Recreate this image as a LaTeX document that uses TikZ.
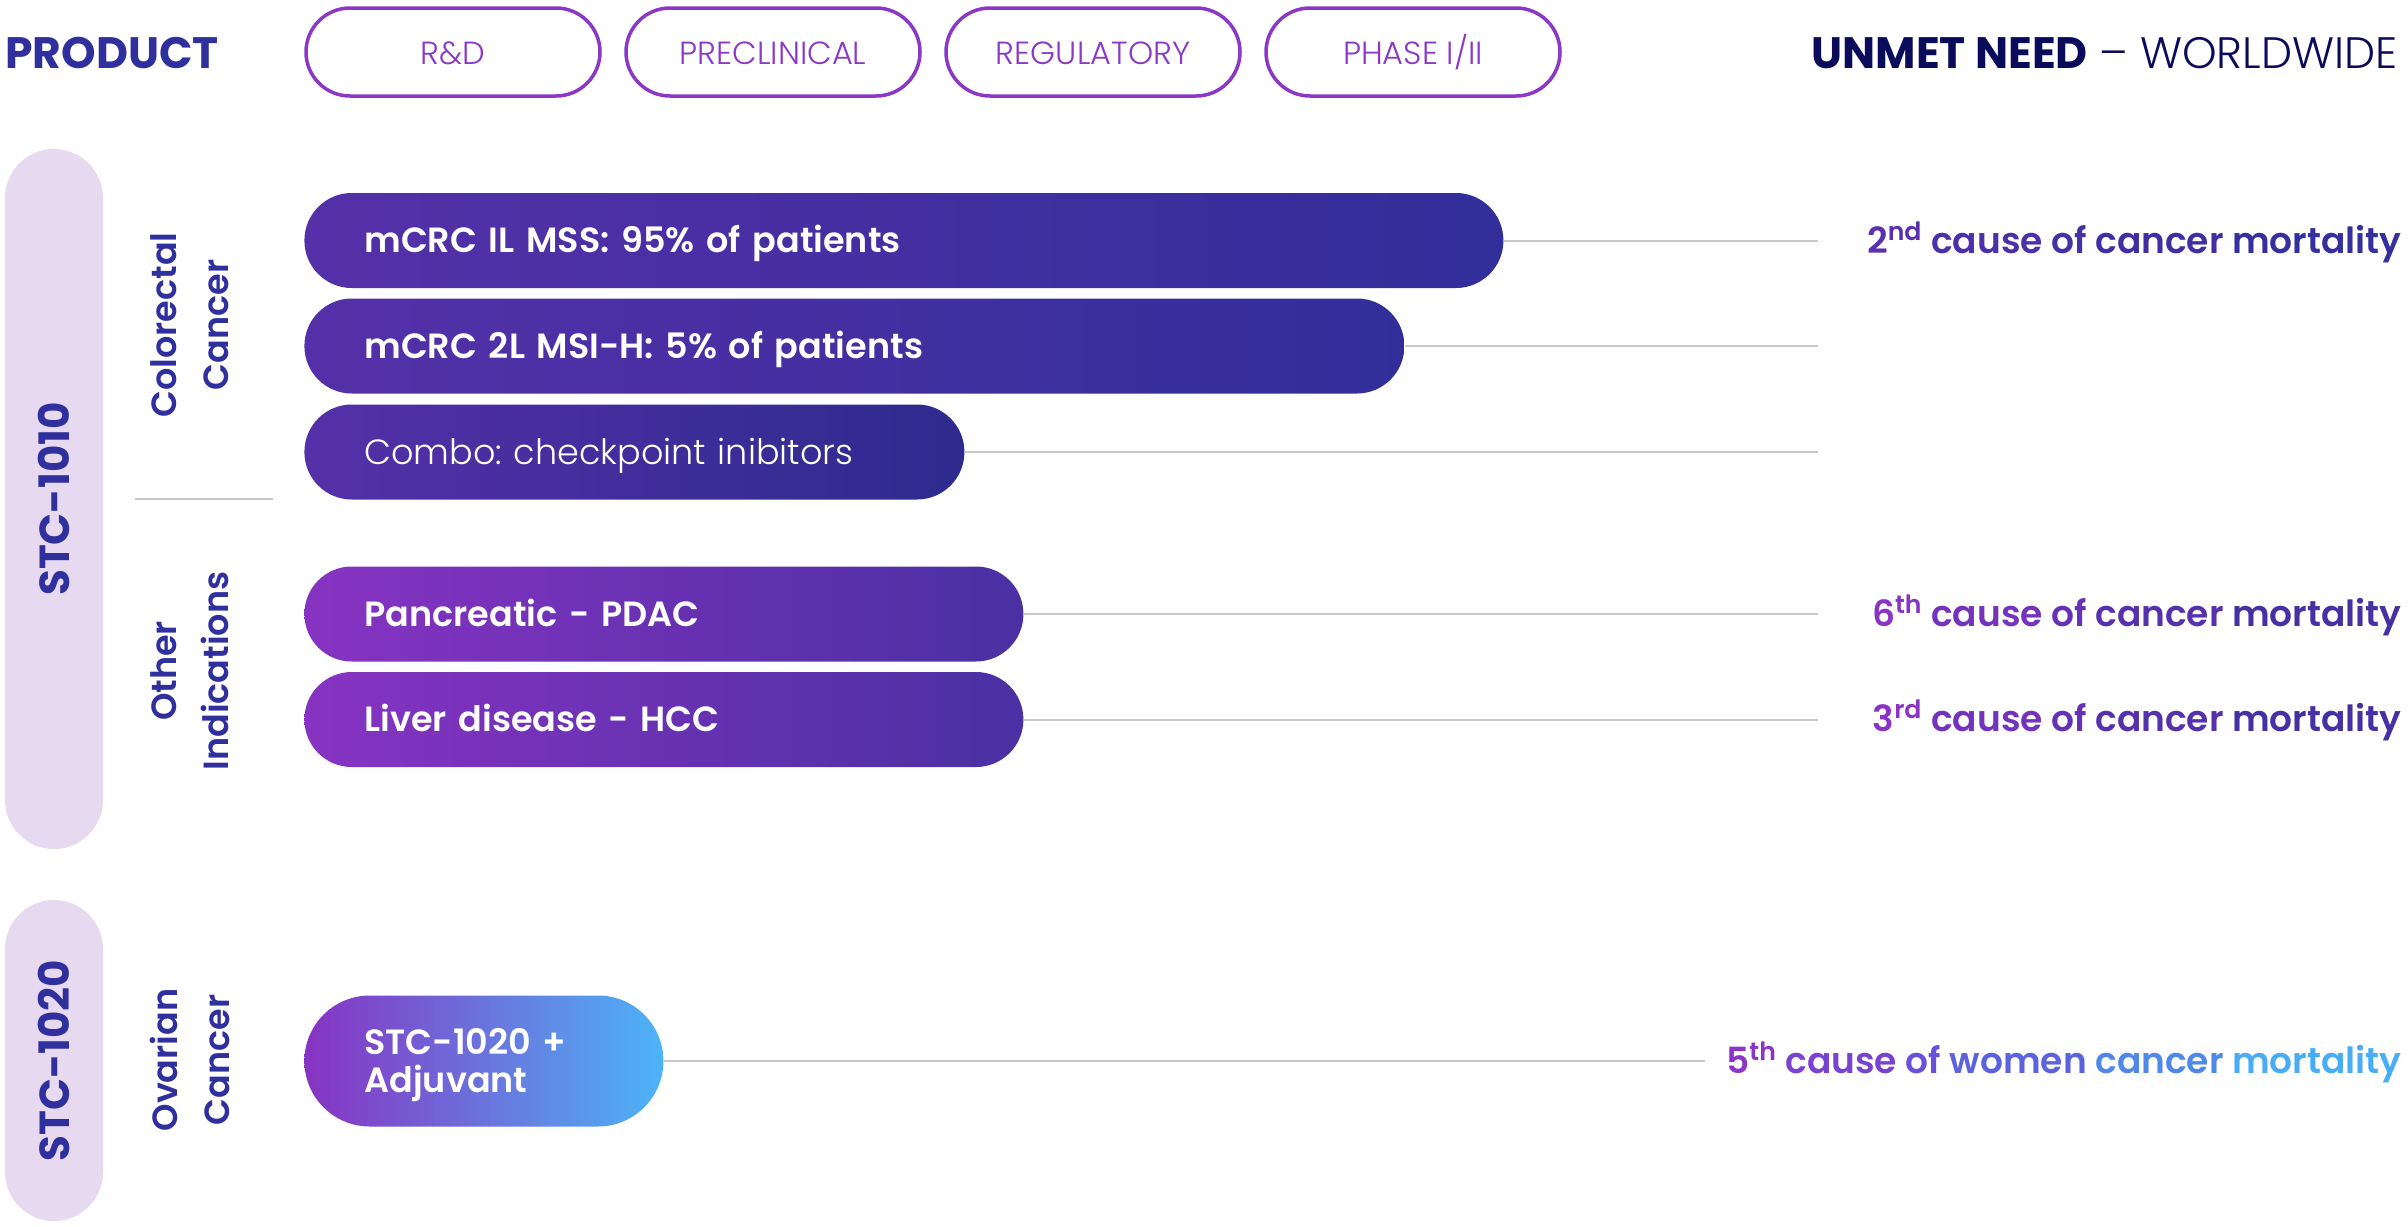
\documentclass[tikz,border=0pt]{standalone}
\usepackage{fontspec}
\setmainfont{Poppins}
\newfontfamily\psemi{Poppins SemiBold}
\newfontfamily\plight{Poppins Light}
\frenchspacing
\definecolor{cpurple}{HTML}{8A38C8}
\definecolor{cnavy}{HTML}{0B0B5C}
\definecolor{cdblue}{HTML}{2F2F9E}
\definecolor{clav}{HTML}{E7D9F0}
\definecolor{cgray}{HTML}{C8C8C8}
\definecolor{bA}{HTML}{5530A8}
\definecolor{bB}{HTML}{312E9A}
\definecolor{bC}{HTML}{8733C2}
\definecolor{bD}{HTML}{4A30A3}
\definecolor{bE}{HTML}{4DB4F7}
\definecolor{ta}{HTML}{5A30B0}
\definecolor{tb}{HTML}{4C30AA}
\definecolor{tc}{HTML}{4530A6}
\definecolor{td}{HTML}{3F2FA2}
\definecolor{te}{HTML}{35309D}
\definecolor{pa}{HTML}{8A33C4}
\definecolor{pb}{HTML}{7333BC}
\definecolor{pc}{HTML}{6532B5}
\definecolor{pd}{HTML}{5631AD}
\definecolor{pe}{HTML}{4530A4}
\definecolor{wa}{HTML}{8A35C8}
\definecolor{wb}{HTML}{7A42D0}
\definecolor{wc}{HTML}{6A50D8}
\definecolor{wd}{HTML}{5C62DE}
\definecolor{we}{HTML}{4F88E8}
\definecolor{wf}{HTML}{48ADF4}
\tikzset{
  pill/.style={draw=cpurple, line width=1.75pt, rounded corners=22pt, minimum width=147pt, minimum height=44pt, inner sep=0pt, text=cpurple, text height=12.4pt, text depth=0pt, font=\plight\fontsize{16}{18}\selectfont},
  side/.style={fill=clav, rotate=90, minimum height=49pt, inner sep=0pt, text=cdblue, font=\bfseries\fontsize{21}{24}\selectfont},
  grp/.style={rotate=90, align=center, text=cdblue, inner sep=0pt, font=\psemi\fontsize{17.5}{26}\selectfont},
  bar/.style={anchor=west, minimum height=47.5pt, rounded corners=23.7pt, inner xsep=30pt, inner ysep=0pt, text=white, text height=12.2pt, text depth=0pt, align=left, font=\psemi\fontsize{17.5}{19}\selectfont},
  gl/.style={draw=cgray, line width=1pt},
  need/.style={anchor=base east, inner sep=0pt, font=\psemi\fontsize{18}{20}\selectfont}
}
\begin{document}
\begin{tikzpicture}[x=0.5pt,y=-0.5pt]
\useasboundingbox (0,0) rectangle (2408,1226);
% header
\node[anchor=west, inner sep=0pt, text=cdblue, font=\bfseries\fontsize{22}{24}\selectfont] (prod) at (5,53) {PRODUCT};
\node[pill] (p1) at (453,52) {R\&D};
\node[pill] (p2) at (773,52) {PRECLINICAL};
\node[pill] (p3) at (1093,52) {REGULATORY};
\node[pill] (p4) at (1413,52) {PHASE I/II};
\node[anchor=east, inner sep=0pt, text=cnavy, font=\fontsize{22}{24}\selectfont] (un) at (2398,53) {{\bfseries UNMET NEED} {\plight – WORLDWIDE}};
% side pills
\node[side, minimum width=350pt, rounded corners=24.5pt] (s1) at (54,499) {STC-1010};
\node[side, minimum width=160.5pt, rounded corners=24.5pt] (s2) at (54,1060.5) {STC-1020};
% group labels
\node[grp] (g1) at (190,325) {Colorectal\\Cancer};
\node[grp] (g2) at (190,671) {Other\\Indications};
\node[grp] (g3) at (190,1060) {Ovarian\\Cancer};
\coordinate (sepa) at (135,499);
\coordinate (sepb) at (273,499);
\draw[gl] (sepa) -- (sepb);
% bars
\node[bar, left color=bA, right color=bB, text width=539.5pt] (b1) at (304,240.5) {mCRC IL MSS: 95\% of patients};
\node[bar, left color=bA, right color=bB, text width=490pt] (b2) at (304,346) {mCRC 2L MSI-H: 5\% of patients};
\node[bar, left color=bA, right color=bB!92!black, text width=270pt, font=\plight\fontsize{17.5}{19}\selectfont] (b3) at (304,452) {Combo: checkpoint inibitors};
\node[bar, left color=bC, right color=bD, text width=299.5pt] (b4) at (304,614) {Pancreatic - PDAC};
\node[bar, left color=bC, right color=bD, text width=299.5pt] (b5) at (304,719.5) {Liver disease - HCC};
\node[bar, left color=bC, right color=bE, text width=119.5pt, minimum height=65.5pt, rounded corners=32.7pt, text height=12.2pt, text depth=19pt] (b6) at (304,1061) {STC-1020 +\\Adjuvant};
% connector ends
\coordinate (e1) at (1818,240.5);
\coordinate (e2) at (1818,346);
\coordinate (e3) at (1818,452);
\coordinate (e4) at (1818,614);
\coordinate (e5) at (1818,719.5);
\coordinate (e6) at (1705,1061);
\draw[gl] (b1.east) -- (e1);
\draw[gl] (b2.east) -- (e2);
\draw[gl] (b3.east) -- (e3);
\draw[gl] (b4.east) -- (e4);
\draw[gl] (b5.east) -- (e5);
\draw[gl] (b6.east) -- (e6);
% right texts
\node[need] (n1) at (2402,253) {\textcolor{ta}{2\textsuperscript{nd}} \textcolor{tb}{cause} \textcolor{tc}{of} \textcolor{td}{cancer} \textcolor{te}{mortality}};
\node[need] (n4) at (2402,626) {\textcolor{pa}{6\textsuperscript{th}} \textcolor{pb}{cause} \textcolor{pc}{of} \textcolor{pd}{cancer} \textcolor{pe}{mortality}};
\node[need] (n5) at (2402,731) {\textcolor{pa}{3\textsuperscript{rd}} \textcolor{pb}{cause} \textcolor{pc}{of} \textcolor{pd}{cancer} \textcolor{pe}{mortality}};
\node[need] (n6) at (2402,1073) {\textcolor{wa}{5\textsuperscript{th}} \textcolor{wb}{cause} \textcolor{wc}{of} \textcolor{wd}{women} \textcolor{we}{cancer} \textcolor{wf}{mortality}};
\end{tikzpicture}
\end{document}
